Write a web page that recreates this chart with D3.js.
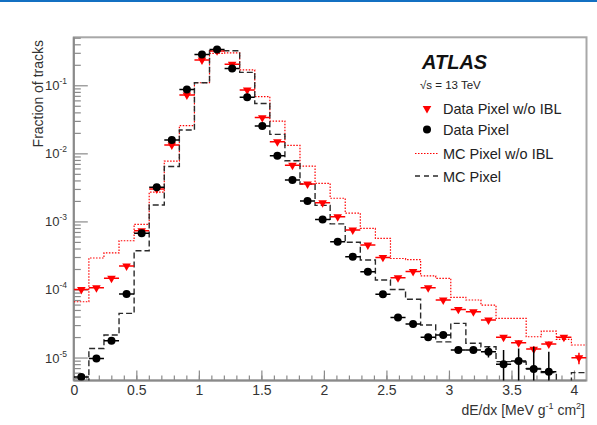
<!DOCTYPE html>
<html><head><meta charset="utf-8">
<script src="https://cdn.jsdelivr.net/npm/d3@7"></script>
<style>
html,body{margin:0;padding:0;background:#fff;}
svg{display:block;font-family:"Liberation Sans",Arial,Helvetica,sans-serif;}
</style></head><body>
<svg id="chart" width="597" height="425"></svg>
<script>
// dE/dx distributions: 34 equal bins spanning [0, 4.1] MeV g^-1 cm^2
const xMin = 0, xMax = 4.1, nBins = 34;
const yMin = 4.6e-6, yMax = 0.507;
const xTickLabels = ["0", "0.5", "1", "1.5", "2", "2.5", "3", "3.5", "4"];
const yTickExponents = [-5, -4, -3, -2, -1];

const seriesNames = ["Data Pixel w/o IBL", "Data Pixel", "MC Pixel w/o IBL", "MC Pixel"];

// Data, Pixel without IBL (red triangles)
const dataPixelNoIBL = [1.0e-4, 1.06e-4, 1.46e-4, 2.21e-4, 7.3e-4, 3.0e-3, 0.0133, 0.072, 0.235, 0.32,
  0.204, 0.085, 0.0335, 0.0148, 6.7e-3, 3.55e-3, 1.88e-3, 1.17e-3, 7.46e-4, 4.5e-4,
  2.96e-4, 1.49e-4, 1.84e-4, 1.06e-4, 7.0e-5, 5.1e-5, 4.7e-5, 3.56e-5, 1.98e-5, 1.65e-5,
  1.33e-5, 1.58e-5, 1.98e-5, 9.9e-6];
const dataPixelNoIBLErr = [0, 0, 0, 0, 0, 0, 0, 0, 0, 0,
  0, 0, 0, 0, 0, 0, 0, 0, 0, 0,
  0, 0, 0, 0, 0, 0, 0, 0, 1.5e-6, 1.4e-6,
  1.3e-6, 1.4e-6, 1.6e-6, 1.9e-6];

// Data, full Pixel detector (black circles)
const dataPixel = [5.2e-6, 9.7e-6, 1.77e-5, 8.6e-5, 6.7e-4, 3.17e-3, 0.0157, 0.087, 0.284, 0.335,
  0.176, 0.0667, 0.0252, 9.25e-3, 4.06e-3, 2.0e-3, 1.07e-3, 5.04e-4, 3.03e-4, 1.82e-4,
  8.5e-5, 3.87e-5, 3.1e-5, 1.98e-5, 2.14e-5, 1.29e-5, 1.29e-5, 1.22e-5, 8.0e-6, 8.9e-6,
  6.8e-6, 6.2e-6, null, null];
const dataPixelErr = [0, 0, 0, 0, 0, 0, 0, 0, 0, 0,
  0, 0, 0, 0, 0, 0, 0, 0, 0, 0,
  0, 0, 0, 0, 0, 0, 0, 2.2e-6, 4.9e-6, 4.7e-6,
  7.6e-6, 6.0e-6, 0, 0];

// Simulation, Pixel without IBL (red dotted)
const mcPixelNoIBL = [6.6e-5, 2.9e-4, 3.45e-4, 5.2e-4, 9.06e-4, 2.7e-3, 7.7e-3, 0.0255, 0.109, 0.295,
  0.30, 0.168, 0.068, 0.0298, 0.0131, 6.5e-3, 3.63e-3, 2.19e-3, 1.32e-3, 7.9e-4,
  5.65e-4, 2.85e-4, 2.75e-4, 1.58e-4, 1.46e-4, 7.66e-5, 7.0e-5, 5.9e-5, 3.77e-5, 3.77e-5,
  2.02e-5, 2.45e-5, 1.85e-5, 1.53e-5];

// Simulation, full Pixel detector (black dashed)
const mcPixel = [2e-6, 1.36e-5, 2.14e-5, 4.45e-5, 3.7e-4, 1.74e-3, 6.4e-3, 0.022, 0.109, 0.322,
  0.322, 0.155, 0.054, 0.019, 7.8e-3, 3.55e-3, 1.72e-3, 9.2e-4, 4.93e-4, 2.71e-4,
  1.38e-4, 1.0e-4, 7.2e-5, 3.0e-5, 1.7e-5, 3.18e-5, 1.62e-5, 1.44e-5, 8.7e-6, 8.6e-6,
  6.9e-6, 6.0e-6, 4e-6, 6e-6];

const RED = "#ff0000", BLACK = "#000000", MCBLACK = "#2a2a2a";
const AXIS = "#8a8a8a", TEXT = "#333333";

const svg = d3.select("#chart");
const plot = {left: 73.8, right: 586.5, top: 37.3, bottom: 380.5};

const x = d3.scaleLinear().domain([xMin, xMax]).range([plot.left, plot.right]);
const y = d3.scaleLog().domain([yMin, yMax]).range([plot.bottom, plot.top]);

const binW = (xMax - xMin) / nBins;
const edges = d3.range(nBins + 1).map(i => xMin + i * binW);
const centers = d3.range(nBins).map(i => xMin + (i + 0.5) * binW);

// header rule
svg.append("rect").attr("x", 0).attr("y", 0).attr("width", 597).attr("height", 2).attr("fill", "#1370c2");

svg.append("defs").append("clipPath").attr("id", "plotclip")
  .append("rect").attr("x", plot.left).attr("y", plot.top)
  .attr("width", plot.right - plot.left).attr("height", plot.bottom - plot.top);

// frame
svg.append("rect").attr("x", plot.left).attr("y", plot.top)
  .attr("width", plot.right - plot.left).attr("height", plot.bottom - plot.top)
  .attr("fill", "none").attr("stroke", "#a8a8a8").attr("stroke-width", 2);

// x axis: major ticks every 0.5, minor every 0.1, drawn inward
const xMajor = xTickLabels.map(Number);
const xMinor = d3.range(0, 41).map(i => i / 10).filter(v => v <= xMax);
const gxMinor = svg.append("g").attr("transform", `translate(0,${plot.bottom})`)
  .call(d3.axisBottom(x).tickValues(xMinor).tickSize(-5).tickSizeOuter(0).tickFormat(""));
const gx = svg.append("g").attr("transform", `translate(0,${plot.bottom})`)
  .call(d3.axisBottom(x).tickValues(xMajor).tickSize(-10).tickSizeOuter(0).tickPadding(5)
    .tickFormat((d, i) => xTickLabels[i]));
[gxMinor, gx].forEach(g => {
  g.select(".domain").remove();
  g.selectAll("line").attr("stroke", AXIS).attr("stroke-width", 1.2);
});
gx.selectAll("text").attr("fill", TEXT).attr("font-size", 14).attr("font-family", null);

// y axis (log): decades labelled, 2..9 minor ticks
const yMajor = yTickExponents.map(e => Math.pow(10, e));
const yMinor = [];
for (let e = -6; e <= 0; e++) for (let m = 2; m <= 9; m++) {
  const v = m * Math.pow(10, e);
  if (v >= yMin && v <= yMax) yMinor.push(v);
}
const gyMinor = svg.append("g").attr("transform", `translate(${plot.left},0)`)
  .call(d3.axisLeft(y).tickValues(yMinor).tickSize(-7).tickSizeOuter(0).tickFormat(""));
const gy = svg.append("g").attr("transform", `translate(${plot.left},0)`)
  .call(d3.axisLeft(y).tickValues(yMajor).tickSize(-14).tickSizeOuter(0).tickFormat(""));
[gyMinor, gy].forEach(g => {
  g.select(".domain").remove();
  g.selectAll("line").attr("stroke", AXIS).attr("stroke-width", 1.2);
});
const yLab = svg.append("g").attr("fill", TEXT);
yTickExponents.forEach(e => {
  const t = yLab.append("text").attr("x", 67).attr("y", y(Math.pow(10, e)) + 5)
    .attr("text-anchor", "end").attr("font-size", 13);
  t.append("tspan").text("10");
  t.append("tspan").attr("font-size", 8.5).attr("dy", -6).text("-" + Math.abs(e));
});

// left and bottom axis lines
svg.append("line").attr("x1", plot.left).attr("x2", plot.left).attr("y1", plot.top).attr("y2", plot.bottom)
  .attr("stroke", AXIS).attr("stroke-width", 2);
svg.append("line").attr("x1", plot.left).attr("x2", plot.right).attr("y1", plot.bottom).attr("y2", plot.bottom)
  .attr("stroke", AXIS).attr("stroke-width", 2);

// axis titles
svg.append("text").attr("transform", "translate(43,40) rotate(-90)")
  .attr("text-anchor", "end").attr("font-size", 14).attr("fill", TEXT).text("Fraction of tracks");

const xt = svg.append("text").attr("x", 585).attr("y", 415).attr("text-anchor", "end")
  .attr("font-size", 14).attr("fill", TEXT);
xt.append("tspan").text("dE/dx [MeV g");
xt.append("tspan").attr("font-size", 9).attr("dy", -6).text("-1");
xt.append("tspan").attr("dy", 6).text(" cm");
xt.append("tspan").attr("font-size", 9).attr("dy", -6).text("2");
xt.append("tspan").attr("dy", 6).text("]");

// histograms
const plotG = svg.append("g").attr("clip-path", "url(#plotclip)");
const step = d3.line().x(d => x(d[0])).y(d => y(d[1])).curve(d3.curveStepAfter);
function stepPoints(vals) {
  const pts = vals.map((v, i) => [edges[i], v]);
  pts.push([edges[nBins], vals[nBins - 1]]);
  return pts;
}
plotG.append("path").attr("d", step(stepPoints(mcPixelNoIBL)))
  .attr("fill", "none").attr("stroke", RED).attr("stroke-width", 1.2).attr("stroke-dasharray", "1.5,1.5");
plotG.append("path").attr("d", step(stepPoints(mcPixel)))
  .attr("fill", "none").attr("stroke", MCBLACK).attr("stroke-width", 1.4).attr("stroke-dasharray", "6,3");

// data points with error bars
function drawPoints(vals, errs, color, marker) {
  const g = plotG.append("g");
  vals.forEach((v, i) => {
    if (v == null) return;
    const cy = y(v);
    g.append("line").attr("x1", x(edges[i])).attr("x2", x(edges[i + 1])).attr("y1", cy).attr("y2", cy)
      .attr("stroke", color).attr("stroke-width", 1.5);
    if (errs[i] > 0) {
      const lo = Math.max(v - errs[i], 1e-9);
      g.append("line").attr("x1", x(centers[i])).attr("x2", x(centers[i]))
        .attr("y1", y(v + errs[i])).attr("y2", y(lo))
        .attr("stroke", color).attr("stroke-width", 1.5);
    }
  });
  vals.forEach((v, i) => {
    if (v == null) return;
    marker(g, x(centers[i]), y(v));
  });
}
const triangle = d3.symbol().type(d3.symbolTriangle).size(32);
const triMarker = (g, cx, cy) => g.append("path").attr("d", triangle())
  .attr("transform", `translate(${cx},${cy}) rotate(180)`).attr("fill", RED);
const dotMarker = (g, cx, cy) => g.append("circle").attr("cx", cx).attr("cy", cy).attr("r", 4).attr("fill", BLACK);

drawPoints(dataPixelNoIBL, dataPixelNoIBLErr, RED, triMarker);
drawPoints(dataPixel, dataPixelErr, BLACK, dotMarker);

// legend
const lg = svg.append("g");
lg.append("text").attr("x", 422).attr("y", 69).attr("font-size", 20).attr("font-weight", "bold")
  .attr("font-style", "italic").attr("fill", "#111").text("ATLAS");
lg.append("text").attr("x", 420).attr("y", 88.5).attr("font-size", 11.5).attr("fill", "#222").text("\u221As = 13 TeV");
const rows = [114, 135, 159, 181.5];
seriesNames.forEach((name, i) => {
  lg.append("text").attr("x", 443).attr("y", rows[i]).attr("font-size", 14.5).attr("fill", "#222").text(name);
});
triMarker(lg, 427, rows[0] - 5.5);
dotMarker(lg, 427, rows[1] - 5.5);
lg.append("line").attr("x1", 415).attr("x2", 438).attr("y1", rows[2] - 5.5).attr("y2", rows[2] - 5.5)
  .attr("stroke", RED).attr("stroke-width", 1.2).attr("stroke-dasharray", "1.5,1.5");
lg.append("line").attr("x1", 415).attr("x2", 438).attr("y1", rows[3] - 5.5).attr("y2", rows[3] - 5.5)
  .attr("stroke", MCBLACK).attr("stroke-width", 1.4).attr("stroke-dasharray", "5,4");
</script>
</body></html>
